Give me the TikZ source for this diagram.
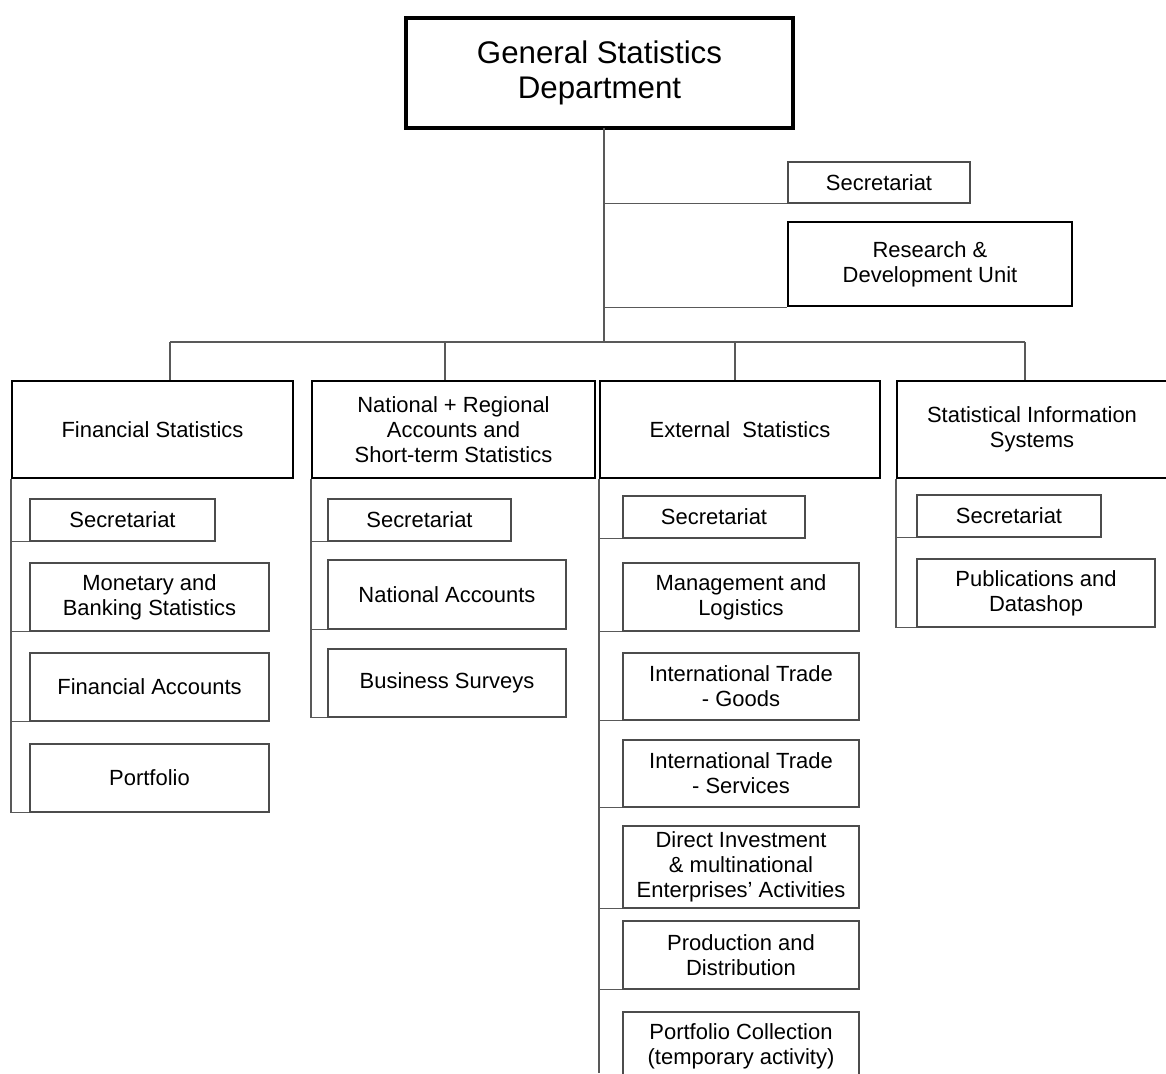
\documentclass[tikz,border=0pt]{standalone}
\usepackage{fontspec}
\setmainfont{Liberation Sans}
\usetikzlibrary{positioning}

\begin{document}
\begin{tikzpicture}[
        x=0.02cm, y=-0.02cm,
        % Style for the department (top) box
        dept/.style={
            rectangle, draw=black, line width=1.8pt, fill=white,
            minimum width=7.74cm, minimum height=2.2cm, align=center,
            font=\fontsize{17.8}{20}\selectfont
        },
        % Style for the four divisions
        division/.style={
            rectangle, draw=black, line width=1.2pt, fill=white,
            minimum width=5.62cm, minimum height=1.94cm, align=center,
            inner sep=2pt, font=\fontsize{12.5}{14.3}\selectfont
        },
        % Style for the units below a division
        unit/.style={
            rectangle, draw=gray!60!black, line width=0.7pt, fill=white,
            minimum width=4.76cm, minimum height=1.36cm, align=center,
            inner sep=2pt, font=\fontsize{12.5}{14.3}\selectfont
        },
        % Small secretariat boxes
        secbox/.style={unit, minimum width=3.66cm, minimum height=0.84cm},
        link/.style={draw=gray!70!black, line width=0.6pt}
    ]
        \clip (0,0) rectangle (1166,1073);

        % --- Nodes ---

        % 1. The department and its staff units
        \node [dept] (top) at (599.5,73) {General Statistics\\Department};
        \node [secbox, minimum width=3.64cm, minimum height=0.82cm] (topsec) at (879,182.5) {Secretariat};
        \node [unit, draw=black, line width=1.2pt, minimum width=5.68cm, minimum height=1.68cm] (rnd) at (930,264) {Research \&\\Development Unit};

        % 2. The divisions
        \node [division] (fin) at (152.5,429.5) {Financial Statistics};
        \node [division, minimum width=5.66cm] (nat) at (453.5,429.5) {National + Regional\\Accounts and\\Short-term Statistics};
        \node [division, minimum width=5.6cm] (ext) at (740,429.5) {External\ \ Statistics};
        \node [division, minimum width=5.4cm] (sis) at (1032,429.5) {Statistical Information\\Systems};

        % 3. Units of Financial Statistics
        \node [secbox, minimum width=3.7cm] (finsec) at (122.5,520) {Secretariat};
        \node [unit, minimum width=4.78cm] (finmon) at (149.5,597) {Monetary and\\Banking Statistics};
        \node [unit, minimum width=4.78cm] (finacc) at (149.5,687) {Financial Accounts};
        \node [unit, minimum width=4.78cm] (finport) at (149.5,778) {Portfolio};

        % 4. Units of National + Regional Accounts
        \node [secbox] (natsec) at (419.5,520) {Secretariat};
        \node [unit, minimum height=1.38cm] (natacc) at (447,594.5) {National Accounts};
        \node [unit] (natbus) at (447,683) {Business Surveys};

        % 5. Units of External Statistics
        \node [secbox, minimum width=3.64cm] (extsec) at (714,517) {Secretariat};
        \node [unit, minimum width=4.72cm] (extman) at (741,597) {Management and\\Logistics};
        \node [unit, minimum width=4.72cm, minimum height=1.34cm] (extgoods) at (741,686.5) {International Trade\\- Goods};
        \node [unit, minimum width=4.72cm, minimum height=1.34cm] (extserv) at (741,773.5) {International Trade\\- Services};
        \node [unit, minimum width=4.72cm, minimum height=1.64cm] (extdir) at (741,867) {Direct Investment\\\& multinational\\Enterprises' Activities};
        \node [unit, minimum width=4.72cm] (extprod) at (741,955) {Production and\\Distribution};
        \node [unit, minimum width=4.72cm] (extport) at (741,1046) {Portfolio Collection\\(temporary activity)};
        \coordinate (extend) at (602,1073);

        % 6. Units of Statistical Information Systems
        \node [secbox, minimum width=3.68cm] (sissec) at (1009,516) {Secretariat};
        \node [unit] (sispub) at (1036,593) {Publications and\\Datashop};

        % --- Edges ---

        % Department down to the bus, staff units off the trunk
        \coordinate (trunk) at (604,128);
        \coordinate (bus) at (604,342);
        \path [link] (trunk) -- (bus);
        \path [link] (trunk |- topsec.south west) -- (topsec.south west);
        \path [link] (trunk |- rnd.south west) -- (rnd.south west);

        % Bus and drops to the divisions (drops sit a little off centre)
        \coordinate (finDrop) at (170,342);
        \coordinate (natDrop) at (445,342);
        \coordinate (extDrop) at (735,342);
        \coordinate (sisDrop) at (1025,342);
        \path [link] (finDrop) -- (sisDrop);
        \path [link] (finDrop) -- (finDrop |- fin.north);
        \path [link] (natDrop) -- (natDrop |- nat.north);
        \path [link] (extDrop) -- (extDrop |- ext.north);
        \path [link] (sisDrop) -- (sisDrop |- sis.north);

        % Column lines of the divisions
        \path [link] (fin.south west) -- (fin.south west |- finport.south);
        \path [link] (nat.south west) -- (nat.south west |- natbus.south);
        \path [link] (ext.south west) -- (ext.south west |- extend);
        \path [link] (sis.south west) -- (sis.south west |- sispub.south);

        % Units hang off the column lines
        \foreach \u in {finsec, finmon, finacc, finport}
            \path [link] (fin.south west |- \u.south west) -- (\u.south west);
        \foreach \u in {natsec, natacc, natbus}
            \path [link] (nat.south west |- \u.south west) -- (\u.south west);
        \foreach \u in {extsec, extman, extgoods, extserv, extdir, extprod}
            \path [link] (ext.south west |- \u.south west) -- (\u.south west);
        \foreach \u in {sissec, sispub}
            \path [link] (sis.south west |- \u.south west) -- (\u.south west);

    \end{tikzpicture}
\end{document}
